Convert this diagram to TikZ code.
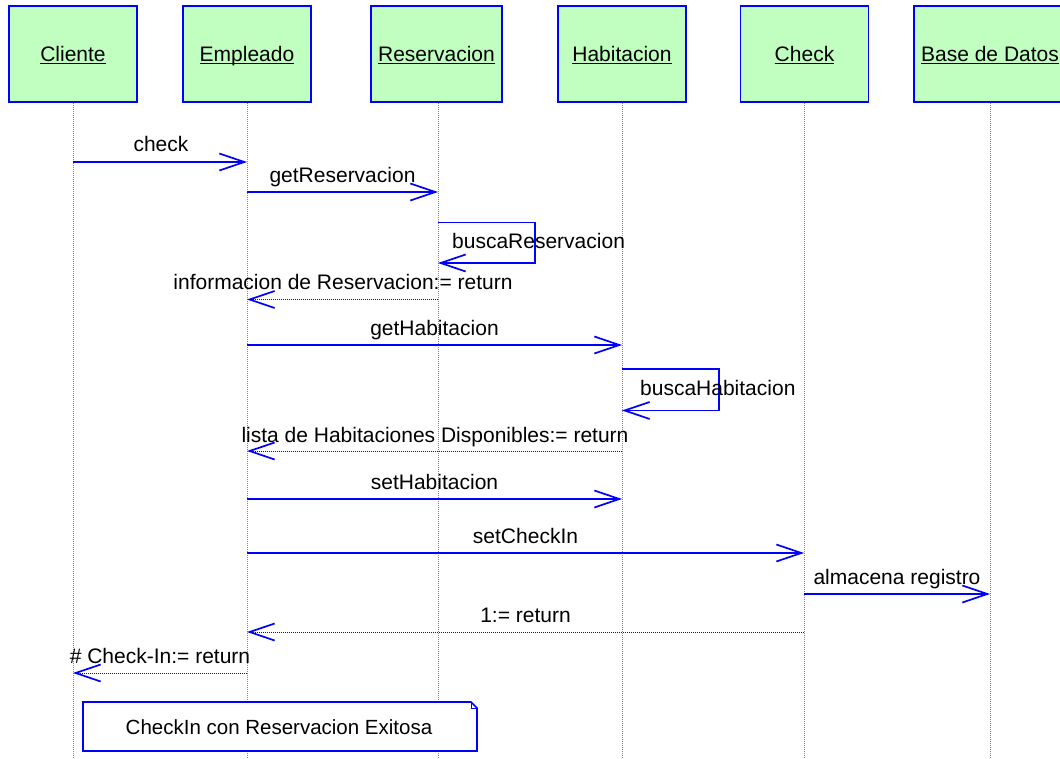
\documentclass[tikz,border=0pt]{standalone}
\usepackage{fontspec}
\setmainfont{Liberation Sans}
\usetikzlibrary{arrows.meta}
\definecolor{umlblue}{RGB}{0,0,255}
\definecolor{umlgreen}{RGB}{192,255,192}
\definecolor{lifeblue}{RGB}{120,120,255}
\newcommand\myul[1]{\setbox0\hbox{#1}\rlap{\rule[-2.6pt]{\wd0}{1.3pt}}\box0}
\tikzset{
  head/.style={draw=umlblue, line width=1.8pt, fill=umlgreen, minimum width=128pt, minimum height=96pt, inner sep=0pt, text height=15pt, text depth=0pt, font=\fontsize{21}{24}\selectfont},
  lifeline/.style={draw=lifeblue, line width=0.7pt, dash pattern=on 1pt off 1pt},
  tip/.style={-{Straight Barb[length=25pt,width=17pt,line width=1.7pt]}},
  msg/.style={draw=umlblue, line width=1.7pt, tip},
  ret/.style={draw=umlblue, line width=0.8pt, dash pattern=on 1pt off 1pt, tip},
  lbl/.style={anchor=base, inner sep=0pt, font=\fontsize{21}{23}\selectfont},
  lblw/.style={anchor=base west, inner sep=0pt, font=\fontsize{21}{23}\selectfont},
}
\begin{document}
\begin{tikzpicture}[x=1pt,y=-1pt]
\useasboundingbox (0,0) rectangle (1060,759);
\clip (0,0) rectangle (1060,759);
% heads
\node[head] (cli) at (73,54) {\myul{Cliente}};
\node[head] (emp) at (247,54) {\myul{Empleado}};
\node[head, minimum width=131pt] (res) at (436.5,54) {\myul{Reservacion}};
\node[head] (hab) at (622,54) {\myul{Habitacion}};
\node[head] (chk) at (804.5,54) {\myul{Check}};
\node[head, minimum width=152pt] (bdd) at (990,54) {\myul{Base de Datos}};
% lifeline ends
\coordinate (cliE) at (73,759);
\coordinate (empE) at (247,759);
\coordinate (resE) at (438,759);
\coordinate (habE) at (622,759);
\coordinate (chkE) at (804,759);
\coordinate (bddE) at (990,759);
\draw[lifeline] (cli.south) -- (cliE);
\draw[lifeline] (emp.south) -- (empE);
\draw[lifeline] (res.south -| resE) -- (resE);
\draw[lifeline] (hab.south) -- (habE);
\draw[lifeline] (chk.south -| chkE) -- (chkE);
\draw[lifeline] (bdd.south) -- (bddE);
% messages
\draw[msg] (cliE |- 0,162) -- (empE |- 0,162);
\node[lbl] (l1) at (161,152) {check};
\draw[msg] (empE |- 0,192) -- (resE |- 0,192);
\node[lbl] (l2) at (342.5,182.5) {getReservacion};
\draw[msg] (resE |- 0,222.5) -- ++(97,0) -- ++(0,40.5) -- (resE |- 0,263);
\node[lblw] (l3) at (452,249) {buscaReservacion};
\draw[ret] (resE |- 0,299.5) -- (empE |- 0,299.5);
\node[lbl] (l4) at (343,290) {informacion de Reservacion:= return};
\draw[msg] (empE |- 0,345) -- (habE |- 0,345);
\node[lbl] (l5) at (434.5,335.5) {getHabitacion};
\draw[msg] (habE |- 0,369) -- ++(97,0) -- ++(0,41.5) -- (habE |- 0,410.5);
\node[lblw] (l6) at (640,395) {buscaHabitacion};
\draw[ret] (habE |- 0,451) -- (empE |- 0,451);
\node[lbl] (l7) at (435,442) {lista de Habitaciones Disponibles:= return};
\draw[msg] (empE |- 0,499) -- (habE |- 0,499);
\node[lbl] (l8) at (434.5,489.5) {setHabitacion};
\draw[msg] (empE |- 0,553) -- (chkE |- 0,553);
\node[lbl] (l9) at (525.5,543.5) {setCheckIn};
\draw[msg] (chkE |- 0,594) -- (bddE |- 0,594);
\node[lbl] (l10) at (897,584.5) {almacena registro};
\draw[ret] (chkE |- 0,632) -- (empE |- 0,632);
\node[lbl] (l11) at (525.5,622.5) {1:= return};
\draw[ret] (empE |- 0,673) -- (cliE |- 0,673);
\node[lbl] (l12) at (160,663.5) {\# Check-In:= return};
% note
\draw[draw=umlblue, line width=1.6pt, fill=white] (83,702) -- (471,702) -- (477,708) -- (477,751) -- (83,751) -- cycle;
\draw[draw=umlblue, line width=0.8pt] (471,702) -- (471,708) -- (477,708);
\node[inner sep=0pt, font=\fontsize{20.5}{22}\selectfont] (note) at (279,727) {CheckIn con Reservacion Exitosa};
\end{tikzpicture}
\end{document}
